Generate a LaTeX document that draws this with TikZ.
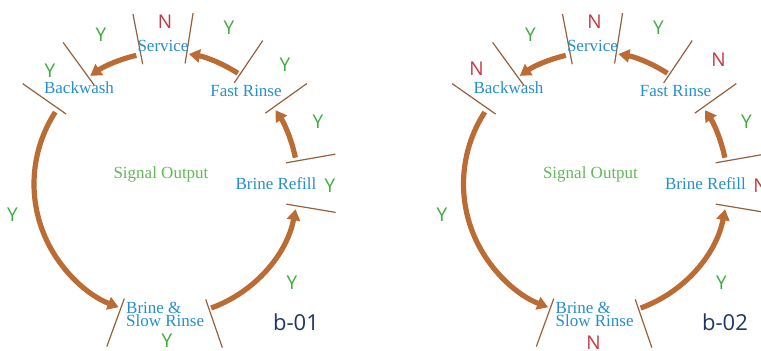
\documentclass[tikz,border=0pt]{standalone}
\usepackage{fontspec}
\setmainfont{Liberation Serif}
\newfontfamily\signfont{Open Sans}
\usetikzlibrary{arrows.meta}
\definecolor{flowbrown}{RGB}{186,108,52}
\definecolor{tickbrown}{RGB}{150,96,60}
\definecolor{stageblue}{RGB}{38,142,206}
\definecolor{yesgreen}{RGB}{62,172,62}
\definecolor{nored}{RGB}{192,58,68}
\definecolor{outgreen}{RGB}{98,184,88}
\definecolor{tagnavy}{RGB}{32,54,100}

\begin{document}
\begin{tikzpicture}[x=1pt,y=1pt]
\tikzstyle{every node}+=[inner sep=0pt]
\tikzstyle{stage}=[text=stageblue,font=\fontsize{17}{12.5}\selectfont,anchor=base]
\tikzstyle{yes}=[text=yesgreen,font=\signfont\fontsize{19}{19}\selectfont]
\tikzstyle{no}=[text=nored,font=\signfont\fontsize{19}{19}\selectfont]
\tikzstyle{tag}=[text=tagnavy,font=\signfont\fontsize{22}{22}\selectfont,anchor=base]
\tikzstyle{flow}=[draw=flowbrown,line width=5.2pt,-{Triangle[length=11pt,width=13pt]}]
\tikzstyle{tick}=[draw=tickbrown,line width=1.2pt]
\useasboundingbox (0,0) rectangle (761,351);
% b-01
\begin{scope}[shift={(166,167)}]
\draw [tick] (101:122) -- (101:173);
\draw [tick] (81:122) -- (81:173);
\draw [tick] (56:122) -- (56:173);
\draw [tick] (35.5:122) -- (35.5:173);
\draw [tick] (10:122) -- (10:172);
\draw [tick] (-9.5:122) -- (-9.5:172);
\draw [tick] (-71:122) -- (-71:173);
\draw [tick] (-110:122) -- (-110:173);
\draw [tick] (145:122) -- (145:175);
\draw [tick] (126:122) -- (126:175);
\node [stage] (sv1) at (-3,132) {Service};
\node [stage] (bw1) at (-87,90) {Backwash};
\node [stage] (fr1) at (80,87) {Fast Rinse};
\node [stage] (br1) at (110,-6) {Brine Refill};
\node [stage,align=left,anchor=north west] (bs1) at (-40,-118) {Brine \&\\Slow Rinse};
\node [stage,text=outgreen] (so1) at (-5,5) {Signal Output};
\coordinate (f1a) at (103:132);
\draw [flow] (f1a) arc[start angle=103,end angle=125,radius=132];
\coordinate (f1b) at (57:132);
\draw [flow] (f1b) arc[start angle=57,end angle=80,radius=132];
\coordinate (f1c) at (11.5:132);
\draw [flow] (f1c) arc[start angle=11.5,end angle=34,radius=132];
\coordinate (f1d) at (147:132);
\draw [flow] (f1d) arc[start angle=147,end angle=249,radius=132];
\coordinate (f1e) at (-70:132);
\draw [flow] (f1e) arc[start angle=-70,end angle=-11,radius=132];
\node [no] (m1a) at (-1,162) {N};
\node [yes] (m1b) at (-65,149) {Y};
\node [yes] (m1c) at (63,156.5) {Y};
\node [yes] (m1d) at (-116,113) {Y};
\node [yes] (m1e) at (119,119) {Y};
\node [yes] (m1f) at (152,62) {Y};
\node [yes] (m1g) at (164,-2) {Y};
\node [yes] (m1h) at (-153.5,-31) {Y};
\node [yes] (m1i) at (126,-99) {Y};
\node [yes] (m1j) at (1,-157) {Y};
\node [tag] (t1) at (130,-147) {b-01};
\end{scope}
% b-02
\begin{scope}[shift={(595.5,167)}]
\draw [tick] (101:122) -- (101:173);
\draw [tick] (81:122) -- (81:173);
\draw [tick] (56:122) -- (56:173);
\draw [tick] (35.5:122) -- (35.5:173);
\draw [tick] (10:122) -- (10:172);
\draw [tick] (-9.5:122) -- (-9.5:172);
\draw [tick] (-71:122) -- (-71:173);
\draw [tick] (-110:122) -- (-110:173);
\draw [tick] (145:122) -- (145:175);
\draw [tick] (126:122) -- (126:175);
\node [stage] (sv2) at (-3,132) {Service};
\node [stage] (bw2) at (-87,90) {Backwash};
\node [stage] (fr2) at (80,87) {Fast Rinse};
\node [stage] (br2) at (110,-6) {Brine Refill};
\node [stage,align=left,anchor=north west] (bs2) at (-40,-118) {Brine \&\\Slow Rinse};
\node [stage,text=outgreen] (so2) at (-5,5) {Signal Output};
\coordinate (f2a) at (103:132);
\draw [flow] (f2a) arc[start angle=103,end angle=125,radius=132];
\coordinate (f2b) at (57:132);
\draw [flow] (f2b) arc[start angle=57,end angle=80,radius=132];
\coordinate (f2c) at (11.5:132);
\draw [flow] (f2c) arc[start angle=11.5,end angle=34,radius=132];
\coordinate (f2d) at (147:132);
\draw [flow] (f2d) arc[start angle=147,end angle=249,radius=132];
\coordinate (f2e) at (-70:132);
\draw [flow] (f2e) arc[start angle=-70,end angle=-11,radius=132];
\node [no] (m2a) at (-1,162) {N};
\node [yes] (m2b) at (-65,149) {Y};
\node [yes] (m2c) at (63,156.5) {Y};
\node [no] (m2d) at (-119,115) {N};
\node [no] (m2e) at (123,124) {N};
\node [yes] (m2f) at (151,62) {Y};
\node [no] (m2g) at (165,-2) {N};
\node [yes] (m2h) at (-153.5,-31) {Y};
\node [yes] (m2i) at (126,-99) {Y};
\node [no] (m2j) at (-2,-159) {N};
\node [tag] (t2) at (129.5,-147) {b-02};
\end{scope}
\end{tikzpicture}
\end{document}
